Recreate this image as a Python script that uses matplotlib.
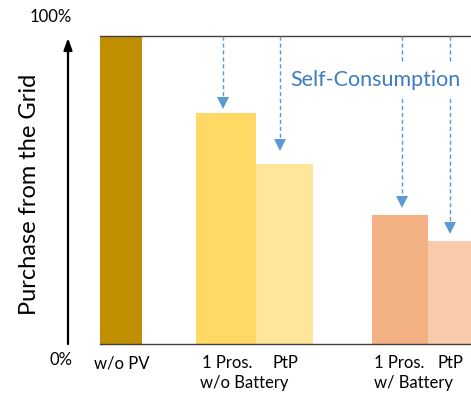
import matplotlib
matplotlib.use("Agg")
import matplotlib.pyplot as plt

# ---- data ---------------------------------------------------------------
scenarios = ["w/o PV", "1 Pros.", "PtP", "1 Pros.", "PtP"]
groups = ["w/o Battery", "w/ Battery"]
purchase_share = [1.00, 0.75, 0.585, 0.42, 0.333]   # share of demand bought from the grid
bar_colors = ["#BF8F00", "#FFD966", "#FFE699", "#F4B183", "#F8CBAD"]

plt.rcParams["font.family"] = ["Lato", "DejaVu Sans"]

W, H = 471, 394
fig = plt.figure(figsize=(W / 100, H / 100), dpi=100)


def fx(px):
    return px / W


def fy(py):
    return 1 - py / H


# plot region (pixel-based horizontal layout)
ax = fig.add_axes([fx(100), fy(344), fx(471) - fx(100), fy(36) - fy(344)])
ax.set_xlim(100, 471)
ax.set_ylim(0, 1.0)

lefts = [100, 196, 256, 372, 428]
widths = [42, 60, 57, 56, 57]
ax.bar(lefts, purchase_share, width=widths, align="edge", color=bar_colors,
       edgecolor="none", zorder=2)

for side in ["left", "right"]:
    ax.spines[side].set_visible(False)
for side in ["top", "bottom"]:
    ax.spines[side].set_color("#404040")
    ax.spines[side].set_linewidth(1.0)
ax.set_yticks([])

tick_x = [122, 227, 285, 399, 450]
ax.set_xticks(tick_x)
ax.set_xticklabels(scenarios, fontsize=12)
ax.tick_params(axis="x", length=0, pad=8)

group_x = [244, 414]
for gx, g in zip(group_x, groups):
    fig.text(fx(gx), fy(383), g, ha="center", va="center", fontsize=12)

# self-consumption arrows from the 100 % line down to each bar
arrow_x = [223.3, 280.3, 401.7, 450]
arrow_gap = [0.016, 0.043, 0.023, 0.026]
for i, ax_x in enumerate(arrow_x):
    tip = purchase_share[i + 1] + arrow_gap[i]
    head = 0.033
    ax.plot([ax_x, ax_x], [1.0, tip + head * 0.5], color="#5B9BD5", lw=1.0,
            linestyle=(0, (3, 2)), zorder=3, clip_on=False)
    ax.plot([ax_x], [tip + head / 2], marker="v", markersize=9,
            color="#5B9BD5", markeredgewidth=0, zorder=4)

ax.text(375, 1 - (80 - 36) / 308, "Self-Consumption", ha="center", va="center",
        fontsize=15.5, color="#3D7CC0", zorder=5,
        bbox=dict(facecolor="white", edgecolor="none", pad=4))

# vertical axis: arrow with percentage marks
ax.annotate("", xy=(68, H - 38), xycoords="figure pixels",
            xytext=(68, H - 344), textcoords="figure pixels",
            arrowprops=dict(arrowstyle="-|>,head_length=0.7,head_width=0.25",
                            lw=1.6, color="black", shrinkA=0, shrinkB=0,
                            mutation_scale=10),
            annotation_clip=False)
fig.text(fx(72), fy(16.5), "100%", ha="right", va="center", fontsize=12)
fig.text(fx(72), fy(360), "0%", ha="right", va="center", fontsize=12)
fig.text(fx(30), fy(194), "Purchase from the Grid", rotation=90,
         ha="center", va="center", fontsize=17)

fig.savefig("out.png", dpi=100)
